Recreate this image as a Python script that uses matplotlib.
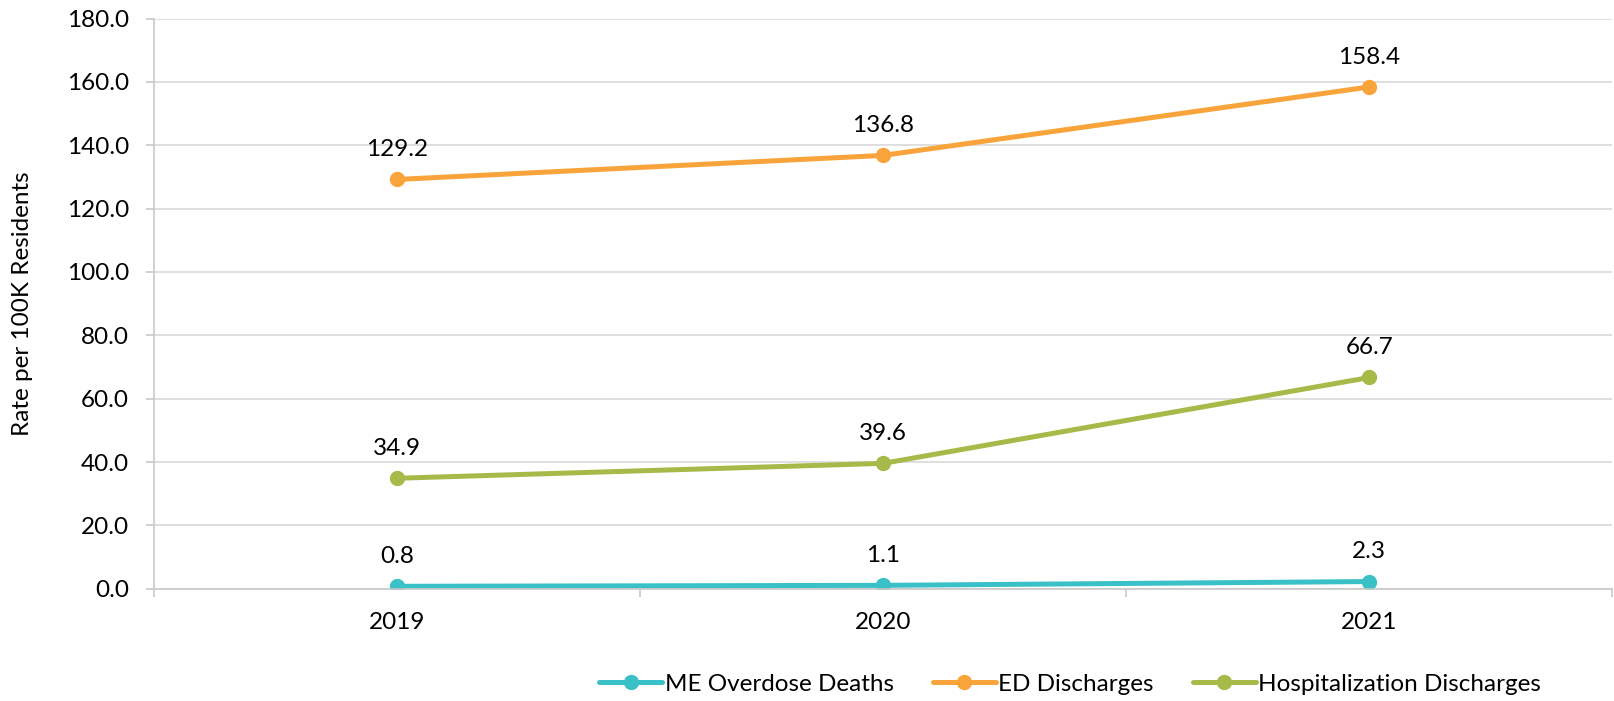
import matplotlib.pyplot as plt
import numpy as np

plt.rcParams['font.family'] = ['Lato', 'DejaVu Sans']

years = ['2019', '2020', '2021']
me_deaths = [0.8, 1.1, 2.3]
ed_discharges = [129.2, 136.8, 158.4]
hosp_discharges = [34.9, 39.6, 66.7]

series = [
    ('ME Overdose Deaths', me_deaths, '#3AC0C7'),
    ('ED Discharges', ed_discharges, '#F9A43A'),
    ('Hospitalization Discharges', hosp_discharges, '#A5BA48'),
]

FS = 17.5

fig = plt.figure(figsize=(16.14, 7.01), dpi=100)
ax = fig.add_axes([0.0954, 0.160, 0.9036, 0.8136])

x = np.arange(len(years))
for name, vals, col in series:
    ax.plot(x, vals, color=col, lw=3.6, marker='o', markersize=10,
            label=name, solid_capstyle='round')
    for xi, v in zip(x, vals):
        ax.annotate(f'{v:.1f}', (xi, v), xytext=(0, 14), textcoords='offset points',
                    ha='center', va='bottom', fontsize=FS, color='black')

ax.set_xlim(-0.5, 2.5)
ax.set_ylim(0, 180)
ax.set_yticks(np.arange(0, 181, 20))
ax.set_yticklabels([f'{t:.1f}' for t in np.arange(0, 181, 20)], fontsize=FS)
ax.set_xticks(x)
ax.set_xticklabels(years, fontsize=FS)
ax.set_xticks([-0.5, 0.5, 1.5, 2.5], minor=True)
ax.tick_params(axis='x', which='major', length=0, pad=17)
ax.tick_params(axis='x', which='minor', length=6, color='#C8C8C8', width=1.2)
ax.tick_params(axis='y', length=6, color='#C8C8C8', width=1.2, pad=12)

ax.grid(axis='y', color='#D9D9D9', lw=1.2)
ax.set_axisbelow(True)
for s in ['top', 'right']:
    ax.spines[s].set_visible(False)
for s in ['left', 'bottom']:
    ax.spines[s].set_color('#C8C8C8')
    ax.spines[s].set_linewidth(1.2)

ax.set_ylabel('Rate per 100K Residents', fontsize=FS)
ax.yaxis.set_label_coords(-0.083, 0.5)

fig.legend(loc='center', bbox_to_anchor=(0.663, 0.024), ncol=3, frameon=False,
           fontsize=FS, handlelength=2.6, columnspacing=1.6, handletextpad=0.1)

fig.savefig('out.png', dpi=100)
